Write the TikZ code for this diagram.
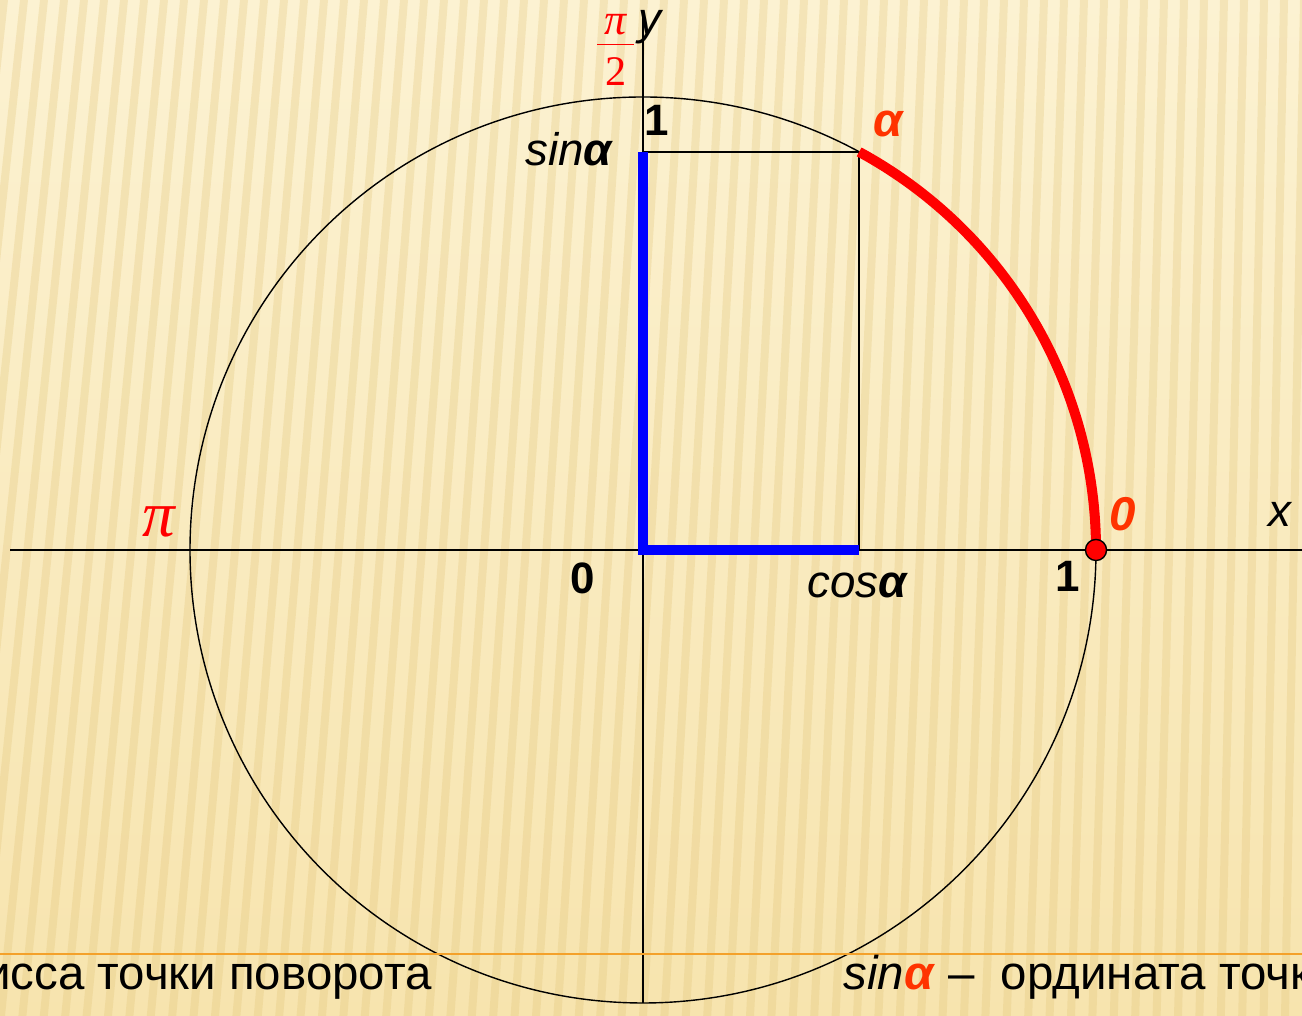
\documentclass[tikz,border=0pt]{standalone}
\usepackage{fontspec}
\setmainfont{Liberation Sans}
\newfontfamily\piserif{Liberation Serif}
\usetikzlibrary{calc}

\definecolor{bgtop}{HTML}{FCF2D2}
\definecolor{bgbot}{HTML}{F7E4AE}
\definecolor{stripe}{HTML}{E0C274}
\definecolor{labred}{HTML}{FF3300}
\definecolor{rulecol}{HTML}{F4A12A}

\begin{document}
\begin{tikzpicture}[
    x=0.02cm, y=0.02cm,
    every node/.style={font=\fontsize{26}{30}\selectfont, inner sep=0pt},
    axis/.style={line width=1.1pt},
    thinline/.style={line width=0.8pt},
    sinline/.style={blue, line width=5.7pt},
    arcline/.style={red, line width=5.7pt},
    dot/.style={draw, circle, fill=red, line width=0.8pt, minimum size=12pt},
    numlabel/.style={font=\fontsize{25}{30}\selectfont\bfseries},
    redpi/.style={red, font=\fontsize{24}{28}\selectfont\piserif},
    bottomtext/.style={font=\fontsize{27}{32}\selectfont, anchor=base}
  ]

    %------------------ Background ------------------%
    \useasboundingbox (0,0) rectangle (1302,1016);
    \shade[top color=bgtop, bottom color=bgbot] (0,0) rectangle (1302,1016);
    \begin{scope}
      \clip (0,0) rectangle (1302,1016);
      \foreach \i in {-40,-20,...,1440}
        \fill[stripe, opacity=0.28] (\i,1016) -- ++(8,0) -- (\i+8-110+0.07*\i,0) -- (\i-110+0.07*\i,0) -- cycle;
    \end{scope}

    %------------------ Circle and axes ------------------%
    \coordinate (O) at (643,466);
    \coordinate (P1) at (1096,466);
    \coordinate (A) at ([shift={(O)}]61.5:453);
    \coordinate (C) at (A |- O);
    \coordinate (S) at (O |- A);
    \coordinate (xl) at (10,466);
    \coordinate (xr) at (1302,466);
    \coordinate (yb) at (643,13);
    \coordinate (yt) at (643,1006);

    \draw[thinline] (O) circle (453);
    \draw[axis] (xl) -- (xr);
    \draw[axis] (yb) -- (yt);

    % Projections of the point
    \draw[thinline] (S) -- (A) -- (C);
    \draw[sinline] (S) -- (O) -- (C);

    % Arc from 0 to alpha
    \draw[arcline] (P1) arc (0:61.5:453);
    \node[dot] (p1dot) at (P1) {};

    %------------------ Labels ------------------%
    \node[redpi, anchor=west] (halfpi) at (595,966)
      {$\displaystyle\frac{\raisebox{-5pt}{\fontsize{25}{28}\selectfont\itshape\,π\,}}{\mbox{\,2\,}}$};
    \node[font=\fontsize{26}{30}\selectfont\itshape] (ylab) at (650,989) {y};
    \node[font=\fontsize{26}{30}\selectfont\itshape] (xlab) at (1280,502) {x};
    \node[numlabel] (onetop) at (657,896) {1};
    \node[numlabel] (oneright) at (1068,440) {1};
    \node[numlabel] (zero) at (583,438) {0};
    \node[anchor=base east] (sinlab) at (614,850) {\textit{sin}\textbf{\textit{α}}};
    \node[anchor=base] (coslab) at (858,418) {\textit{cos}\textbf{\textit{α}}};
    \node[labred, font=\fontsize{27}{30}\selectfont\bfseries\itshape] (alab) at (888,892) {α};
    \node[labred, font=\fontsize{27}{30}\selectfont\bfseries\itshape] (zerolab) at (1123,502) {0};
    \node[redpi, font=\fontsize{37}{40}\selectfont\piserif\itshape] (pilab) at (159,494) {π};

    %------------------ Bottom text ------------------%
    \coordinate (rl) at (0,62);
    \coordinate (rr) at (1302,62);
    \draw[rulecol, line width=1.1pt] (rl) -- (rr);
    \node[bottomtext, anchor=base east] (leftnote) at (432,26) {исса точки поворота};
    \node[bottomtext, anchor=base west] (rightnote) at (843,26)
      {\textit{sin}{\color{labred}\textbf{\textit{α}}} –\ \ ордината точки};

  \end{tikzpicture}
\end{document}
